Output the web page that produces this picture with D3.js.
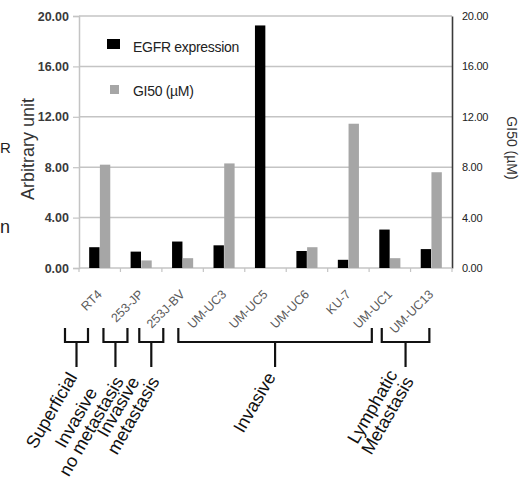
<!DOCTYPE html>
<html><head><meta charset="utf-8">
<script src="https://cdn.jsdelivr.net/npm/d3@7"></script>
<style>
html,body{margin:0;padding:0;background:#fff;}
svg{display:block;}
text{font-family:"Liberation Sans",Arial,sans-serif;}
</style></head>
<body>
<script>
// ---- data ----
const categories = ["RT4","253-JP","253J-BV","UM-UC3","UM-UC5","UM-UC6","KU-7","UM-UC1","UM-UC13"];
const egfrExpression = [1.65, 1.3, 2.1, 1.8, 19.25, 1.35, 0.65, 3.05, 1.5];
const gi50 = [8.2, 0.6, 0.78, 8.3, 0, 1.65, 11.45, 0.78, 7.6];
const yTicks = [0, 4, 8, 12, 16, 20];
const seriesNames = ["EGFR expression", "GI50 (\u00b5M)"];
const groupLabels = [["Superficial"], ["Invasive","no metastasis"], ["Invasive","metastasis"], ["Invasive"], ["Lymphatic","Metastasis"]];
const groupFirst = [0, 1, 2, 3, 8];
const groupLast = [0, 1, 2, 7, 8];
const edgeFragments = ["R", "n"];

// ---- layout (hand-drawn bracket insets, px relative to band starts) ----
const bracketInset = [[-14, 9], [-17, 7], [-22.6, 1.4], [-25, 2.7], [-28.8, 18.8]];

const W = 523, H = 486;
const m = {left: 79, right: 71, top: 16, bottom: 218};
const svg = d3.select("body").append("svg").attr("width", W).attr("height", H);

const x = d3.scaleBand().domain(categories).range([m.left, W - m.right]).paddingInner(0).paddingOuter(0);
const y = d3.scaleLinear().domain([0, 20]).range([H - m.bottom, m.top]);
const series = d3.scaleBand().domain([0, 1]).range([0, x.bandwidth()]).paddingInner(0.03).paddingOuter(0.95);
const colors = ["#000000", "#a6a6a6"];

// gridlines
svg.append("g").selectAll("line").data(yTicks.filter(d => d > 0)).join("line")
  .attr("x1", m.left).attr("x2", W - m.right)
  .attr("y1", d => y(d)).attr("y2", d => y(d))
  .attr("stroke", "#c4c4c4").attr("stroke-width", 1.5);

// left axis
const yl = svg.append("g").attr("transform", `translate(${m.left},0)`)
  .call(d3.axisLeft(y).tickValues(yTicks).tickFormat(d3.format(".2f")).tickSize(6).tickPadding(4));
yl.select(".domain").attr("stroke", "#c4c4c4").attr("stroke-width", 1.5);
yl.selectAll(".tick line").attr("stroke", "#c4c4c4").attr("stroke-width", 1.2);
yl.selectAll(".tick text").attr("font-size", 12.5).attr("font-weight", "bold").attr("fill", "#3a3a3a");

// right axis
const yr = svg.append("g").attr("transform", `translate(${W - m.right},0)`)
  .call(d3.axisRight(y).tickValues(yTicks).tickFormat(d3.format(".2f")).tickSize(0).tickPadding(10));
yr.select(".domain").attr("stroke", "#3a3a3a").attr("stroke-width", 1.6);
yr.selectAll(".tick text").attr("font-size", 11).attr("fill", "#222").attr("letter-spacing", -0.3);

// bottom baseline + ticks
const xb = svg.append("g").attr("transform", `translate(0,${y(0)})`);
xb.append("line").attr("x1", m.left).attr("x2", W - m.right).attr("stroke", "#c4c4c4").attr("stroke-width", 1.5);
xb.selectAll("line.t").data(d3.range(categories.length + 1)).join("line").attr("class", "t")
  .attr("x1", i => m.left + i * x.step()).attr("x2", i => m.left + i * x.step())
  .attr("y1", 0).attr("y2", 4).attr("stroke", "#c4c4c4").attr("stroke-width", 1.2);

// bars
const values = [egfrExpression, gi50];
values.forEach((vals, s) => {
  svg.append("g").selectAll("rect").data(categories).join("rect")
    .attr("x", c => x(c) + series(s))
    .attr("width", series.bandwidth())
    .attr("y", (c, i) => y(vals[i]))
    .attr("height", (c, i) => y(0) - y(vals[i]))
    .attr("fill", colors[s]);
});

// category labels
svg.append("g").selectAll("text").data(categories).join("text")
  .attr("transform", c => `translate(${x(c) + x.bandwidth() / 2 + 3},${y(0) + 27}) rotate(-45)`)
  .attr("text-anchor", "end").attr("font-size", 12.5).attr("fill", "#5a5a5a").text(c => c);

// legend
const lg = svg.append("g");
seriesNames.forEach((n, i) => {
  lg.append("rect").attr("x", i === 0 ? 107 : 110).attr("y", i === 0 ? 39 : 85)
    .attr("width", i === 0 ? 13 : 9).attr("height", i === 0 ? 10 : 9).attr("fill", colors[i]);
  lg.append("text").attr("x", 133).attr("y", i === 0 ? 52 : 96).attr("font-size", 14)
    .attr("fill", "#222").attr("letter-spacing", -0.3).text(n);
});

// axis titles
svg.append("text").attr("transform", `translate(34,149) rotate(-90)`).attr("text-anchor", "middle")
  .attr("font-size", 18).attr("fill", "#333").text("Arbitrary unit");
svg.append("text").attr("transform", `translate(507,148) rotate(90)`).attr("text-anchor", "middle")
  .attr("font-size", 14).attr("fill", "#333").text("GI50 (\u00b5M)");

// fragments at left edge
svg.append("text").attr("x", 0).attr("y", 153).attr("font-size", 15).attr("fill", "#222").text(edgeFragments[0]);
svg.append("text").attr("x", 0).attr("y", 233).attr("font-size", 18).attr("fill", "#222").text(edgeFragments[1]);

// group brackets
const bTop = 328, bBot = 342, stemBot = 367;
const gb = svg.append("g").attr("stroke", "#111").attr("stroke-width", 2.2).attr("fill", "none");
groupLabels.forEach((lab, g) => {
  const x0 = x(categories[groupFirst[g]]) + bracketInset[g][0];
  const x1 = x(categories[groupLast[g]]) + bracketInset[g][1];
  const xm = (x0 + x1) / 2;
  gb.append("path").attr("d", `M${x0},${bTop}V${bBot}H${x1}V${bTop}`);
  gb.append("path").attr("d", `M${xm},${bBot}V${stemBot}`);
  const t = svg.append("text").attr("font-size", 18).attr("fill", "#111").attr("text-anchor", "middle");
  const lh = 17.5;
  lab.forEach((line, k) => {
    t.append("tspan").attr("x", 0).attr("y", (k - (lab.length - 1) / 2) * lh + 6).text(line);
  });
  let maxL = 0;
  t.selectAll("tspan").each(function () { maxL = Math.max(maxL, this.getComputedTextLength()); });
  const d = maxL / 2 + 8;
  const a = 60 * Math.PI / 180;
  const cx = xm - Math.cos(a) * d, cy = stemBot + Math.sin(a) * d;
  t.attr("transform", `translate(${cx},${cy}) rotate(-60)`);
});
</script>
</body></html>
